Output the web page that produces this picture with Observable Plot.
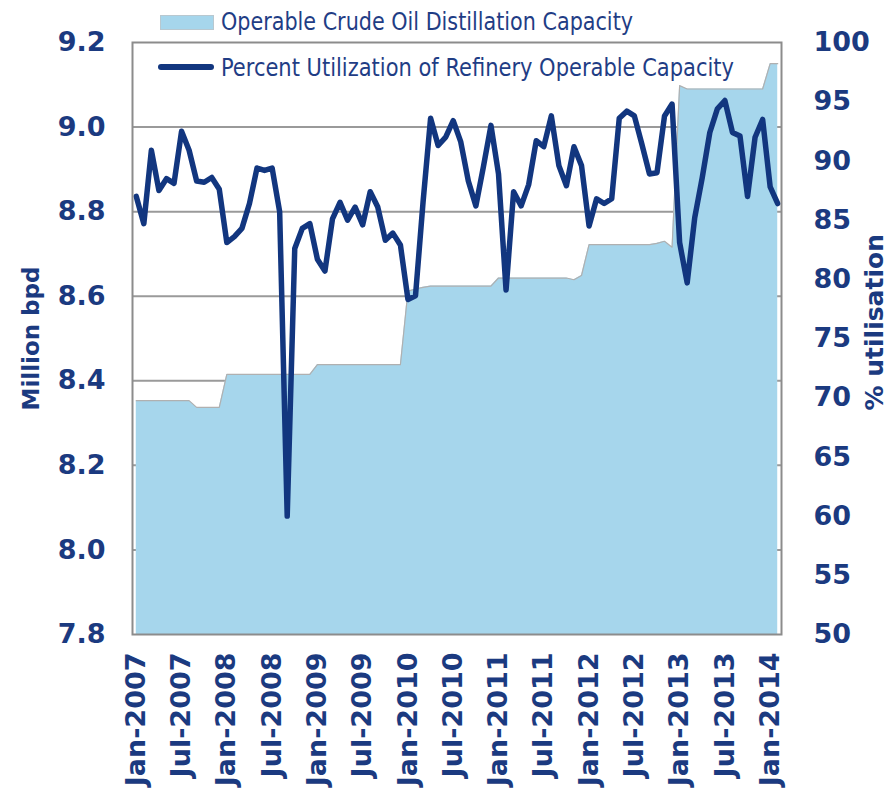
<!DOCTYPE html>
<html>
<head>
<meta charset="utf-8">
<script src="https://cdn.jsdelivr.net/npm/d3@7"></script>
<script src="https://cdn.jsdelivr.net/npm/@observablehq/plot@0.6"></script>
<style>
  html, body { margin: 0; padding: 0; background: #fff; }
  #wrap { position: relative; width: 890px; height: 793px; }
  .leg { position: absolute; font-family: "Liberation Sans Narrow", "Arial Narrow", "DejaVu Sans Condensed", sans-serif; font-size: 25px; line-height: 25px; color: #1f3d85; white-space: nowrap; transform-origin: 0 50%; }
  .sw-area { position: absolute; left: 160px; top: 15px; width: 54px; height: 15px; background: #a6d6ec; border: 1px solid #b8c8d0; box-sizing: border-box; }
  .sw-line { position: absolute; left: 158px; top: 64px; width: 56px; height: 6px; border-radius: 3px; background: #12367f; }
</style>
</head>
<body>
<div id="wrap">
  <div id="chart"></div>
  <div class="sw-area"></div>
  <div class="leg" id="leg1" data-w="412" style="left:221px; top:9px;">Operable Crude Oil Distillation Capacity</div>
  <div class="sw-line"></div>
  <div class="leg" id="leg2" data-w="513" style="left:221px; top:55px;">Percent Utilization of Refinery Operable Capacity</div>
</div>
<script>
// Monthly series, Jan-2007 .. Feb-2014 (86 months)
const capacity = [
  8.353, 8.353, 8.353, 8.353, 8.353, 8.353, 8.353, 8.353,
  8.337, 8.337, 8.337, 8.337,
  8.415, 8.415, 8.415, 8.415, 8.415, 8.415, 8.415, 8.415, 8.415, 8.415, 8.415, 8.415,
  8.438, 8.438, 8.438, 8.438, 8.438, 8.438, 8.438, 8.438, 8.438, 8.438, 8.438, 8.438,
  8.612, 8.617, 8.621,
  8.624, 8.624, 8.624, 8.624, 8.624, 8.624, 8.624, 8.624, 8.624,
  8.643, 8.643, 8.643, 8.643, 8.643, 8.643, 8.643, 8.643, 8.643, 8.643,
  8.639, 8.649,
  8.722, 8.722, 8.722, 8.722, 8.722, 8.722, 8.722, 8.722, 8.722,
  8.725, 8.730, 8.716,
  9.098,
  9.090, 9.090, 9.090, 9.090, 9.090, 9.090, 9.090, 9.090, 9.090, 9.090, 9.090,
  9.150, 9.150
];
const utilization = [
  87.0, 84.7, 90.9, 87.5, 88.5, 88.1, 92.5, 90.9, 88.3, 88.2,
  88.6, 87.6, 83.1, 83.6, 84.3, 86.4, 89.4, 89.2, 89.4, 85.7,
  60.0, 82.6, 84.3, 84.7, 81.7, 80.7, 85.1, 86.5, 85.0, 86.1,
  84.6, 87.4, 86.1, 83.3, 83.9, 82.9, 78.3, 78.6, 86.5, 93.6,
  91.3, 92.0, 93.4, 91.6, 88.3, 86.2, 89.5, 93.0, 88.9, 79.1,
  87.4, 86.2, 88.0, 91.7, 91.2, 93.8, 89.6, 87.9, 91.2, 89.6,
  84.5, 86.8, 86.4, 86.8, 93.6, 94.2, 93.8, 91.4, 88.9, 89.0,
  93.8, 94.8, 83.1, 79.7, 85.2, 88.6, 92.4, 94.4, 95.1, 92.4,
  92.1, 87.0, 92.0, 93.5, 87.8, 86.4
];
const xTickLabels = ["Jan-2007","Jul-2007","Jan-2008","Jul-2008","Jan-2009","Jul-2009","Jan-2010","Jul-2010",
                     "Jan-2011","Jul-2011","Jan-2012","Jul-2012","Jan-2013","Jul-2013","Jan-2014"];
const leftTicks = [7.8, 8.0, 8.2, 8.4, 8.6, 8.8, 9.0, 9.2];
const rightTicks = [50, 55, 60, 65, 70, 75, 80, 85, 90, 95, 100];
const leftTitle = "Million bpd";
const rightTitle = "% utilisation";

const L0 = 7.8, L1 = 9.2, R0 = 50, R1 = 100;
const toLeft = v => L0 + (v - R0) * (L1 - L0) / (R1 - R0);
const fromLeft = v => R0 + (v - L0) * (R1 - R0) / (L1 - L0);

const data = capacity.map((c, i) => ({i, cap: c, util: utilization[i]}));
const xTickPos = xTickLabels.map((_, k) => k * 6);

const navy = "#12367f";
const textNavy = "#1b3a80";

const chart = Plot.plot({
  width: 890,
  height: 793,
  marginLeft: 132,
  marginRight: 109,
  marginTop: 42,
  marginBottom: 159,
  style: {fontFamily: "DejaVu Sans", fontWeight: "bold", fontSize: "27px", color: textNavy, background: "transparent"},
  x: {domain: [-0.5, capacity.length - 0.5]},
  y: {domain: [L0, L1]},
  marks: [
    Plot.ruleY(leftTicks.slice(1, -1), {stroke: "#9a9a9a", strokeWidth: 2}),
    Plot.areaY(data, {x: "i", y1: L0, y2: "cap", fill: "#a6d6ec"}),
    Plot.lineY(data, {x: "i", y: "cap", stroke: "#b0b0b0", strokeWidth: 1.2}),
    Plot.lineY(data, {x: "i", y: d => toLeft(d.util), stroke: navy, strokeWidth: 5.5, strokeLinejoin: "round", strokeLinecap: "round"}),
    Plot.frame({stroke: "#8c8c8c", strokeWidth: 2}),
    Plot.axisY(leftTicks, {anchor: "left", tickSize: 0, tickPadding: 27, tickFormat: d => d.toFixed(1), fill: textNavy, label: null}),
    Plot.axisY(rightTicks.map(toLeft), {anchor: "right", tickSize: 0, tickPadding: 32, tickFormat: d => String(Math.round(fromLeft(d))), fill: textNavy, label: null}),
    Plot.axisX(xTickPos, {anchor: "bottom", tickSize: 0, tickPadding: 18, tickRotate: -90, tickFormat: (d) => xTickLabels[xTickPos.indexOf(d)], fill: textNavy, label: null}),
    Plot.text([leftTitle], {text: d => d, frameAnchor: "left", dx: -101, dy: 72, rotate: -90, textAnchor: "start", fill: textNavy, fontSize: 23, fontWeight: "bold"}),
    Plot.text([rightTitle], {text: d => d, frameAnchor: "right", dx: 93, dy: 72, rotate: -90, textAnchor: "start", fill: textNavy, fontSize: 25, fontWeight: "bold"})
  ]
});
document.getElementById("chart").appendChild(chart);

// fit legend text widths
document.querySelectorAll(".leg").forEach(el => {
  const w = el.getBoundingClientRect().width;
  const target = +el.dataset.w;
  if (w > 0) el.style.transform = `scaleX(${target / w})`;
});
</script>
</body>
</html>
